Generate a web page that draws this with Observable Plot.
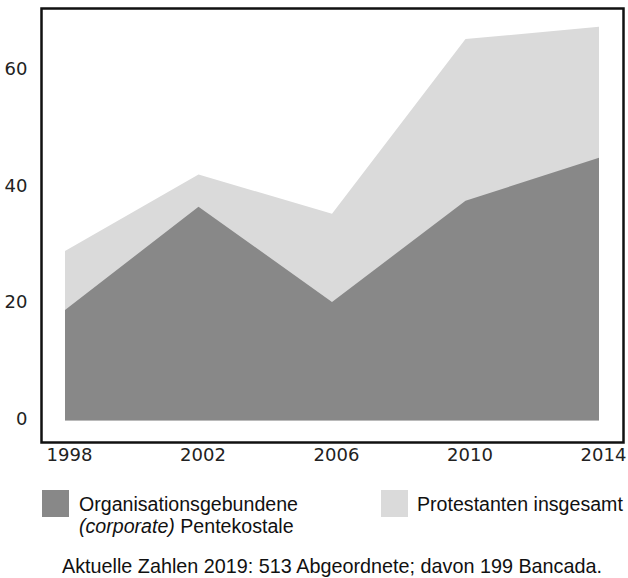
<!DOCTYPE html>
<html>
<head>
<meta charset="utf-8">
<script src="https://cdn.jsdelivr.net/npm/d3@7"></script>
<script src="https://cdn.jsdelivr.net/npm/@observablehq/plot@0.6"></script>
<style>
  body { margin: 0; background: #fff; }
  #wrap { position: relative; width: 628px; height: 578px; font-family: "Liberation Sans", Arial, sans-serif; color: #111; }
  .sw { position: absolute; width: 27px; height: 27px; }
  .lt { position: absolute; font-size: 19.6px; line-height: 22px; white-space: nowrap; }
</style>
</head>
<body>
<div id="wrap"></div>
<script>
const years = [1998, 2002, 2006, 2010, 2014];
const corporate = [18.9, 36.6, 20.3, 37.6, 45.0];
const total = [29.0, 42.1, 35.4, 65.3, 67.4];
const yTicks = [0, 20, 40, 60];
const legendDarkItalic = "(corporate)";
const legendDarkLine1 = "Organisationsgebundene";
const legendDarkLine2 = "Pentekostale";
const legendLight = "Protestanten insgesamt";
const caption = "Aktuelle Zahlen 2019: 513 Abgeordnete; davon 199 Bancada.";
const colDark = "#888888";
const colLight = "#dadada";

const rows = years.map((y, i) => ({year: y, corporate: corporate[i], total: total[i]}));

const chart = Plot.plot({
  width: 628,
  height: 472,
  marginLeft: 41,
  marginRight: 5,
  marginTop: 8,
  marginBottom: 30,
  style: {fontFamily: "'DejaVu Sans', Verdana, sans-serif", fontSize: "18px", color: "#222", background: "#fff"},
  x: {domain: [1998, 2014], insetLeft: 24, insetRight: 24, label: null},
  y: {domain: [0, 60], insetTop: 62, insetBottom: 21.5, label: null},
  marks: [
    Plot.areaY(rows, {x: "year", y: "total", fill: colLight}),
    Plot.areaY(rows, {x: "year", y: "corporate", fill: colDark}),
    Plot.axisX({ticks: years, tickFormat: d => String(d), tickSize: 0, tickPadding: 6, dx: 4, label: null}),
    Plot.axisY({ticks: yTicks, tickSize: 0, tickPadding: 14, dy: -1.5, label: null}),
    Plot.frame({stroke: "#111", strokeWidth: 2.5})
  ]
});

const wrap = document.getElementById("wrap");
chart.style.position = "absolute";
chart.style.left = "0px";
chart.style.top = "0px";
wrap.appendChild(chart);

function add(html) { wrap.insertAdjacentHTML("beforeend", html); }
add(`<div class="sw" style="left:42px;top:490px;background:${colDark}"></div>`);
add(`<div class="lt" style="left:79px;top:493px">${legendDarkLine1}<br><i>${legendDarkItalic}</i> ${legendDarkLine2}</div>`);
add(`<div class="sw" style="left:381px;top:490px;background:${colLight}"></div>`);
add(`<div class="lt" style="left:417px;top:493px">${legendLight}</div>`);
add(`<div class="lt" style="left:41px;width:582px;text-align:center;top:555px;font-size:19.8px">${caption}</div>`);
</script>
</body>
</html>
